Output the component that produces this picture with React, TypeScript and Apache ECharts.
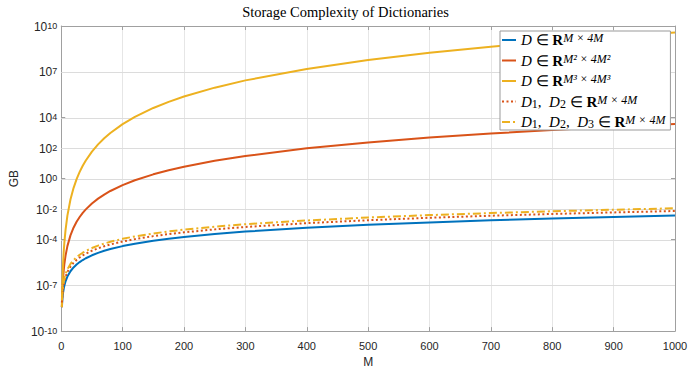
import React, { useEffect, useRef } from "react";
import * as echarts from "echarts";

// M values (x axis)
const M = [1, 2, 3, 4, 5, 7, 10, 15, 20, 25, 30, 35, 40, 50, 60, 70, 80, 100, 120, 150, 175, 200, 250, 300, 400, 500, 600, 700, 800, 900, 1000];
// storage in GB
const gbD_M = [3.73e-9, 1.49e-8, 3.35e-8, 5.96e-8, 9.31e-8, 1.83e-7, 3.73e-7, 8.38e-7, 1.49e-6, 2.33e-6, 3.35e-6, 4.56e-6, 5.96e-6, 9.31e-6, 1.34e-5, 1.83e-5, 2.38e-5, 3.73e-5, 5.36e-5, 8.38e-5, 1.14e-4, 1.49e-4, 2.33e-4, 3.35e-4, 5.96e-4, 9.31e-4, 1.34e-3, 1.83e-3, 2.38e-3, 3.02e-3, 3.73e-3];
const gbD_M2 = [3.73e-9, 5.96e-8, 3.02e-7, 9.54e-7, 2.33e-6, 8.94e-6, 3.73e-5, 1.89e-4, 5.96e-4, 1.46e-3, 3.02e-3, 5.59e-3, 9.54e-3, 2.33e-2, 4.83e-2, 8.94e-2, 0.153, 0.373, 0.773, 1.89, 3.49, 5.96, 14.6, 30.2, 95.4, 233, 483, 894, 1526, 2444, 3725];
const gbD_M3 = [3.73e-9, 2.38e-7, 2.72e-6, 1.53e-5, 5.82e-5, 4.38e-4, 3.73e-3, 4.24e-2, 0.238, 0.91, 2.72, 6.85, 15.3, 58.2, 174, 438, 977, 3725, 1.11e4, 4.24e4, 1.07e5, 2.38e5, 9.09e5, 2.72e6, 1.53e7, 5.82e7, 1.74e8, 4.38e8, 9.77e8, 1.98e9, 3.73e9];
const gbD12 = [7.45e-9, 2.98e-8, 6.71e-8, 1.19e-7, 1.86e-7, 3.65e-7, 7.45e-7, 1.68e-6, 2.98e-6, 4.66e-6, 6.71e-6, 9.13e-6, 1.19e-5, 1.86e-5, 2.68e-5, 3.65e-5, 4.77e-5, 7.45e-5, 1.07e-4, 1.68e-4, 2.28e-4, 2.98e-4, 4.66e-4, 6.71e-4, 1.19e-3, 1.86e-3, 2.68e-3, 3.65e-3, 4.77e-3, 6.04e-3, 7.45e-3];
const gbD123 = [1.12e-8, 4.47e-8, 1.01e-7, 1.79e-7, 2.79e-7, 5.48e-7, 1.12e-6, 2.51e-6, 4.47e-6, 6.98e-6, 1.01e-5, 1.37e-5, 1.79e-5, 2.79e-5, 4.02e-5, 5.48e-5, 7.15e-5, 1.12e-4, 1.61e-4, 2.51e-4, 3.42e-4, 4.47e-4, 6.98e-4, 1.01e-3, 1.79e-3, 2.79e-3, 4.02e-3, 5.48e-3, 7.15e-3, 9.05e-3, 1.12e-2];

// y tick exponents (10^k)
const Y_TICK_EXPONENTS = [-10, -7, -4, -2, 0, 2, 4, 7, 10];
const Y_MIN = -10;
const Y_MAX = 10;

const SERIES_NAMES = [
  "D ∈ R^(M×4M)",
  "D ∈ R^(M²×4M²)",
  "D ∈ R^(M³×4M³)",
  "D1, D2 ∈ R^(M×4M)",
  "D1, D2, D3 ∈ R^(M×4M)",
];
const LEGEND_RICH = [
  "{it|D} {rm|∈} {bf|R}{sup|M × 4M}",
  "{it|D} {rm|∈} {bf|R}{sup|M² × 4M²}",
  "{it|D} {rm|∈} {bf|R}{sup|M³ × 4M³}",
  "{it|D}{sub|1}{rm|,  }{it|D}{sub|2} {rm|∈} {bf|R}{sup|M × 4M}",
  "{it|D}{sub|1}{rm|,  }{it|D}{sub|2}{rm|,  }{it|D}{sub|3} {rm|∈} {bf|R}{sup|M × 4M}",
];

const BLUE = "#0072BD";
const ORANGE = "#D95319";
const YELLOW = "#EDB120";
const AXIS_COLOR = "#a0a0a0";
const GRID_COLOR = "#e6e6e6";
const H_GRID_COLOR = "#dcdcdc";
const TEXT_COLOR = "#262626";

function toPairs(vals: number[]) {
  return M.map((m, i) => [m, Math.log10(vals[i])]);
}

export default function App() {
  const ref = useRef<HTMLDivElement>(null);
  useEffect(() => {
    if (!ref.current) return;
    const chart = echarts.init(ref.current, undefined, { renderer: "svg" });
    const sansFont = "Liberation Sans, Arial, sans-serif";
    const serifFont = "Liberation Serif, Times New Roman, serif";
    const lineBase = {
      type: "line" as const, showSymbol: false, symbol: "none",
      xAxisIndex: 0, yAxisIndex: 0, z: 3,
    };
    chart.setOption({
      animation: false,
      backgroundColor: "#ffffff",
      title: {
        text: "Storage Complexity of Dictionaries",
        left: "center",
        top: 4,
        padding: [0, 0, 0, 41],
        textStyle: { fontFamily: serifFont, fontSize: 14.5, fontWeight: "normal", color: "#000" },
      },
      grid: { left: 57, right: 16, top: 26, bottom: 35, show: false },
      legend: {
        orient: "vertical",
        left: 500,
        top: 31,
        padding: [1, 5, 0, 1],
        itemGap: 4.5,
        itemWidth: 14,
        itemHeight: 10,
        itemStyle: { opacity: 0 },
        backgroundColor: "#fff",
        borderColor: "#999",
        borderWidth: 1,
        borderRadius: 0,
        data: SERIES_NAMES,
        formatter: (name: string) => LEGEND_RICH[SERIES_NAMES.indexOf(name)],
        textStyle: {
          fontFamily: serifFont,
          fontSize: 15,
          color: "#000",
          lineHeight: 16,
          rich: {
            it: { fontFamily: serifFont, fontStyle: "italic", fontSize: 15, lineHeight: 16, color: "#000" },
            rm: { fontFamily: serifFont, fontSize: 15, lineHeight: 16, color: "#000" },
            bf: { fontFamily: serifFont, fontWeight: "bold", fontSize: 15, lineHeight: 16, color: "#000" },
            sup: { fontFamily: serifFont, fontStyle: "italic", fontSize: 12, lineHeight: 10, verticalAlign: "top", color: "#000" },
            sub: { fontFamily: serifFont, fontSize: 12, lineHeight: 10, verticalAlign: "bottom", color: "#000" },
          },
        },
      },
      xAxis: [
        {
          type: "value", min: 0, max: 1000, interval: 100,
          name: "M", nameLocation: "middle", nameGap: 21,
          nameTextStyle: { fontFamily: sansFont, fontSize: 12, color: TEXT_COLOR },
          axisLine: { show: true, onZero: false, lineStyle: { color: AXIS_COLOR, width: 1 } },
          axisTick: { show: true, inside: true, length: 4, lineStyle: { color: AXIS_COLOR } },
          axisLabel: { fontFamily: sansFont, fontSize: 11, color: TEXT_COLOR, margin: 9, formatter: (v: number) => String(v) },
          splitLine: { show: true, lineStyle: { color: GRID_COLOR, width: 1 } },
        },
        {
          type: "value", min: 0, max: 1000, interval: 100, position: "top",
          axisLine: { show: true, onZero: false, lineStyle: { color: AXIS_COLOR, width: 1 } },
          axisTick: { show: true, inside: true, length: 4, lineStyle: { color: AXIS_COLOR } },
          axisLabel: { show: false },
          splitLine: { show: false },
        },
      ],
      yAxis: [
        {
          type: "value", min: Y_MIN, max: Y_MAX, interval: 1,
          name: "GB", nameLocation: "middle", nameGap: 38,
          nameTextStyle: { fontFamily: sansFont, fontSize: 12, color: TEXT_COLOR },
          axisLine: { show: true, onZero: false, lineStyle: { color: AXIS_COLOR, width: 1 } },
          axisTick: { show: false },
          axisLabel: {
            margin: 4,
            formatter: (v: number) => (Y_TICK_EXPONENTS.includes(v) ? `{b|10}{s|${v}}` : ""),
            rich: {
              b: { fontFamily: sansFont, fontSize: 12, lineHeight: 13, padding: [4, 0, 0, 0], verticalAlign: "bottom", color: TEXT_COLOR },
              s: { fontFamily: sansFont, fontSize: 9, lineHeight: 10, padding: [1.5, 0, 0, 0], verticalAlign: "top", color: TEXT_COLOR },
            },
          },
          splitLine: { show: false },
        },
        {
          type: "value", min: Y_MIN, max: Y_MAX, interval: 1, position: "right",
          axisLine: { show: true, onZero: false, lineStyle: { color: AXIS_COLOR, width: 1 } },
          axisTick: { show: true, inside: true, length: 4, customValues: Y_TICK_EXPONENTS, lineStyle: { color: AXIS_COLOR } },
          axisLabel: { show: false },
          splitLine: { show: false },
        },
        {
          type: "value", min: Y_MIN, max: Y_MAX, interval: 1, position: "left",
          axisLine: { show: false, onZero: false },
          axisTick: { show: true, inside: true, length: 4, customValues: Y_TICK_EXPONENTS, lineStyle: { color: AXIS_COLOR } },
          axisLabel: { show: false },
          splitLine: { show: false },
        },
      ],
      series: [
        {
          type: "custom",
          silent: true,
          clip: false,
          z: 2,
          xAxisIndex: 0,
          yAxisIndex: 0,
          data: Y_TICK_EXPONENTS.filter((k) => k !== Y_MIN && k !== Y_MAX).map((k) => [0, k]),
          renderItem: (params: any, api: any) => {
            const cs = params.coordSys;
            const y = Math.round(api.coord([0, api.value(1)])[1]) + 0.5;
            return {
              type: "line",
              shape: { x1: cs.x, y1: y, x2: cs.x + cs.width, y2: y },
              style: { stroke: H_GRID_COLOR, lineWidth: 1, opacity: 1 },
            };
          },
        },
        { ...lineBase, name: SERIES_NAMES[0], data: toPairs(gbD_M), color: BLUE, lineStyle: { color: BLUE, width: 2 } },
        { ...lineBase, name: SERIES_NAMES[1], data: toPairs(gbD_M2), color: ORANGE, lineStyle: { color: ORANGE, width: 2 } },
        { ...lineBase, name: SERIES_NAMES[2], data: toPairs(gbD_M3), color: YELLOW, lineStyle: { color: YELLOW, width: 2 } },
        { ...lineBase, name: SERIES_NAMES[3], data: toPairs(gbD12), color: ORANGE, lineStyle: { color: ORANGE, width: 2, type: [2, 2.5] } },
        { ...lineBase, name: SERIES_NAMES[4], data: toPairs(gbD123), color: YELLOW, lineStyle: { color: YELLOW, width: 2, type: [8, 3, 2, 3] } },
      ],
    });
    return () => chart.dispose();
  }, []);
  return (
    <div
      ref={ref}
      style={{ position: "fixed", left: 0, top: 0, width: 691, height: 373, background: "#fff" }}
    />
  );
}
